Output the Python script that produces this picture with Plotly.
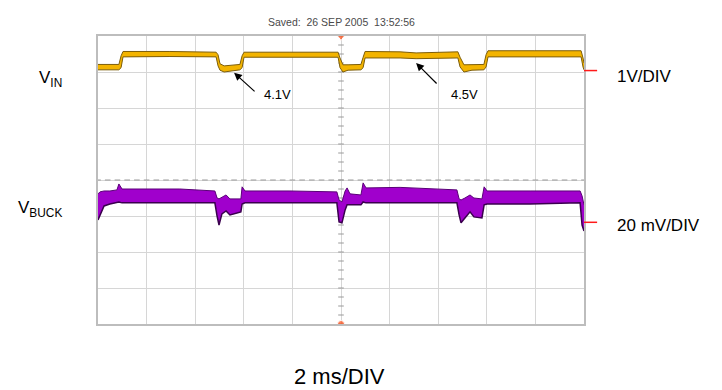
import numpy as np
import plotly.graph_objects as go

# time base: 2 ms/div, 10 div, trigger at centre
t_vin = [-10.0, -9.14, -9.05, -8.97, -7.04, -5.14, -5.06, -4.98, -4.81, -4.49, -4.16,
         -4.07, -3.99, -2.10, -0.12, -0.04, 0.08, 0.29, 0.82, 0.91, 0.99, 2.43, 3.09,
         4.81, 4.90, 5.06, 5.39, 5.88, 5.97, 6.05, 7.98, 9.88, 9.96, 10.0]
# VIN trace envelope (volts)
vin_top = [4.22, 4.22, 4.46, 4.58, 4.58, 4.56, 4.49, 4.24, 4.18, 4.19, 4.22, 4.46,
           4.56, 4.56, 4.56, 4.40, 4.21, 4.21, 4.22, 4.42, 4.58, 4.57, 4.54, 4.57,
           4.42, 4.21, 4.21, 4.22, 4.49, 4.60, 4.60, 4.60, 4.40, 4.26]
vin_bot = [4.07, 4.07, 4.13, 4.43, 4.44, 4.43, 4.18, 4.06, 4.01, 4.04, 4.07, 4.13,
           4.42, 4.42, 4.42, 4.13, 4.01, 4.06, 4.07, 4.13, 4.40, 4.40, 4.38, 4.40,
           4.15, 4.01, 4.06, 4.07, 4.15, 4.43, 4.43, 4.43, 4.15, 4.07]

t_buck = [-10.0, -9.92, -9.75, -9.51, -9.22, -9.14, -9.01, -7.86, -6.63, -5.19, -5.10,
          -5.02, -4.90, -4.73, -4.57, -4.24, -4.12, -4.07, -3.95, -2.10, -0.17, -0.08,
          0.04, 0.17, 0.25, 0.37, 0.82, 0.91, 1.03, 2.43, 4.77, 4.86, 4.94, 5.10, 5.31,
          5.47, 5.80, 5.89, 6.01, 7.78, 9.84, 9.92, 10.0]
# VBUCK ripple envelope (mV, AC)
buck_top = [1.7, 2.8, 3.3, 3.3, 3.9, 7.2, 4.4, 4.4, 4.4, 3.3, -0.6, -1.1, 0.0, 1.1,
            -1.1, -1.1, -1.1, 5.6, 3.3, 3.3, 2.8, -1.7, -2.8, 3.3, 5.0, 1.7, 1.1, 7.8,
            5.0, 5.3, 3.9, -1.1, -1.7, -0.6, 1.1, -0.6, -1.1, 5.6, 3.3, 3.3, 3.3, 0.6, -4.4]
buck_bot = [-12.8, -10.0, -5.0, -3.9, -3.3, -2.8, -3.3, -3.3, -3.3, -3.3, -10.6, -15.6,
            -9.4, -7.8, -10.0, -8.9, -8.3, -3.9, -3.3, -3.3, -3.3, -13.9, -14.4, -7.2,
            -4.4, -4.4, -4.4, -2.8, -3.3, -3.3, -3.3, -10.0, -14.4, -11.7, -8.3, -11.1,
            -11.7, -4.4, -3.9, -3.9, -3.3, -15.6, -18.9]

VIN_DIV = 1.0      # V/div
BUCK_DIV = 20.0    # mV/div
VIN_TOP = 5.01     # V at top of screen
BUCK_TOP = 89.4    # mV at top of screen
VIN_REF = 4.05
BUCK_REF = -14.1

FONT = "Arial, Liberation Sans, sans-serif"

fig = go.Figure()

# graticule centre ticks
fig.add_trace(go.Scatter(x=np.zeros(33), y=np.linspace(-4, 4, 33), mode="markers",
                         marker=dict(symbol="line-ew", size=4, line=dict(color="#9a9a9a", width=1)),
                         hoverinfo="skip", showlegend=False))
fig.add_trace(go.Scatter(x=np.linspace(-10, 10, 51), y=np.zeros(51), mode="markers",
                         marker=dict(symbol="line-ew", size=4, line=dict(color="#9a9a9a", width=1)),
                         hoverinfo="skip", showlegend=False))
# trigger markers
fig.add_trace(go.Scatter(x=[0, 0], y=[4, -4], mode="markers",
                         marker=dict(symbol=["triangle-down", "circle"], size=[9, 7], color="#ff4a10"),
                         hoverinfo="skip", showlegend=False))

# VIN band
fig.add_trace(go.Scatter(x=t_vin + t_vin[::-1], y=vin_top + vin_bot[::-1], yaxis="y2",
                         fill="toself", fillcolor="#f3b400", mode="lines",
                         line=dict(width=0), hoverinfo="skip", showlegend=False))
for env in (vin_top, vin_bot):
    fig.add_trace(go.Scatter(x=t_vin, y=env, yaxis="y2", mode="lines",
                             line=dict(color="#7d5e0a", width=1), showlegend=False))

# VBUCK band
fig.add_trace(go.Scatter(x=t_buck + t_buck[::-1], y=buck_top + buck_bot[::-1], yaxis="y3",
                         fill="toself", fillcolor="#a000cc", mode="lines",
                         line=dict(width=0), hoverinfo="skip", showlegend=False))
fig.add_trace(go.Scatter(x=t_buck, y=buck_top, yaxis="y3", mode="lines",
                         line=dict(color="#5a0078", width=1), showlegend=False))
fig.add_trace(go.Scatter(x=t_buck, y=buck_bot, yaxis="y3", mode="lines",
                         line=dict(color="#3a004e", width=1.5), showlegend=False))

grid = dict(showgrid=True, gridcolor="#d6d6d6", gridwidth=1, zeroline=False,
            showticklabels=False, ticks="", showline=True, linecolor="#bdbdbd",
            linewidth=1.5, mirror=True)
# page has an 8px body margin, so the figure is a bit smaller than the window
fig.update_layout(
    width=714, height=382,
    margin=dict(l=90, r=138, t=28, b=66),
    paper_bgcolor="white", plot_bgcolor="white",
    xaxis=dict(range=[-10, 10], dtick=2, **grid),
    yaxis=dict(range=[-4, 4], dtick=1, **grid),
    yaxis2=dict(range=[VIN_TOP - 8 * VIN_DIV, VIN_TOP], overlaying="y", visible=False),
    yaxis3=dict(range=[BUCK_TOP - 8 * BUCK_DIV, BUCK_TOP], overlaying="y", visible=False),
    font=dict(family=FONT, color="black"),
    showlegend=False,
)

# channel reference markers on the right
for lvl, yr in ((VIN_REF, "y2"), (BUCK_REF, "y3")):
    fig.add_shape(type="line", xref="paper", x0=1.0, x1=1.027, yref=yr, y0=lvl, y1=lvl,
                  line=dict(color="#ff1a1a", width=1.5))

# arrows for the levels
fig.add_annotation(x=-4.40, y=3.99, yref="y2", ax=22, ay=20, text="", showarrow=True,
                   arrowhead=2, arrowsize=1.3, arrowwidth=1.2, arrowcolor="black")
fig.add_annotation(x=3.09, y=4.26, yref="y2", ax=22, ay=22, text="", showarrow=True,
                   arrowhead=2, arrowsize=1.3, arrowwidth=1.2, arrowcolor="black")
fig.add_annotation(x=-2.63, y=3.375, yref="y2", text="4.1V", showarrow=False,
                   font=dict(size=13))
fig.add_annotation(x=5.07, y=3.375, yref="y2", text="4.5V", showarrow=False,
                   font=dict(size=13))

labels = [
    ("V<sub>IN</sub>", -0.07, 0.85, "right", 17),
    ("V<sub>BUCK</sub>", -0.07, 0.40, "right", 17),
    ("1V/DIV", 1.064, 0.858, "left", 17),
    ("20 mV/DIV", 1.064, 0.341, "left", 17),
    ("2 ms/DIV", 0.496, -0.183, "center", 22),
]
for txt, x, y, anchor, size in labels:
    fig.add_annotation(xref="paper", yref="paper", x=x, y=y, text=txt, showarrow=False,
                       xanchor=anchor, yanchor="middle", font=dict(size=size))

fig.add_annotation(xref="paper", yref="paper", x=0.5, y=1.076, showarrow=False,
                   text="Saved:  26 SEP 2005  13:52:56",
                   font=dict(size=10.5, color="#4a4a4a"))

fig.write_html("out.html")
